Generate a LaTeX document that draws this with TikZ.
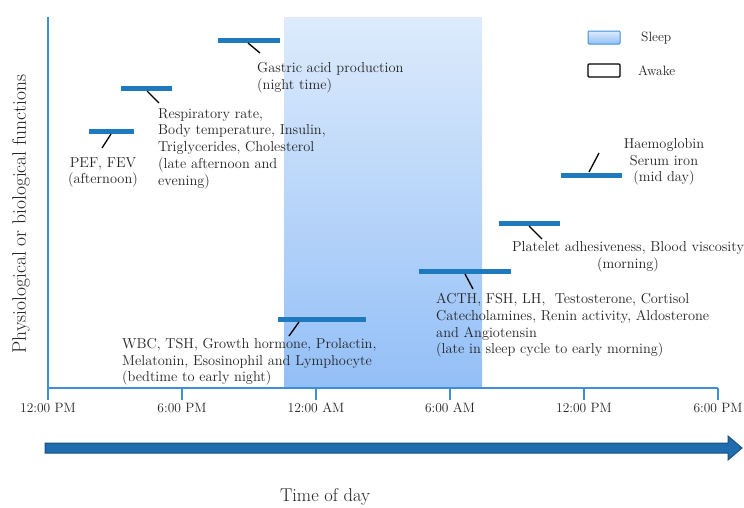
\documentclass[tikz,border=0pt]{standalone}
\usepackage{xcolor}
\definecolor{barblue}{HTML}{1F79BF}
\definecolor{axisblue}{HTML}{3E8FDA}
\definecolor{sleeptop}{HTML}{DDEBFC}
\definecolor{sleepbot}{HTML}{93BFF7}
\definecolor{arrowfill}{HTML}{1F6DAE}
\definecolor{arrowedge}{HTML}{1A4E80}
\definecolor{txt}{HTML}{222222}
\begin{document}
\begin{tikzpicture}[x=1pt,y=-1pt,
  bar/.style={line width=5pt,draw=barblue},
  lead/.style={line width=1.3pt,draw=black},
  axisline/.style={line width=1.4pt,draw=axisblue},
  lbl/.style={font=\fontsize{14.4}{16.8}\selectfont,text=txt,inner sep=0pt},
  ticklbl/.style={font=\fontsize{13.5}{15}\selectfont,text=txt,inner sep=0pt},
  legtxt/.style={font=\fontsize{13.5}{15}\selectfont,text=txt,inner sep=0pt,anchor=west}]
\useasboundingbox (0,0) rectangle (744,507);
% sleep band
\shade[top color=sleeptop,bottom color=sleepbot] (284,17) rectangle (482,388);
% axes
\draw[axisline] (48,17) -- (48,388) -- (718,388);
\foreach \x/\t [count=\i] in {48/12:00 PM,182/6:00 PM,316/12:00 AM,450/6:00 AM,584/12:00 PM,718/6:00 PM}{
  \coordinate (t\i) at (\x,388);
  \draw[axisline] (t\i) -- ++(0,12);
  \node[ticklbl] (tl\i) at (\x,408) {\t};
}
% time arrow
\draw[arrowedge,fill=arrowfill,line width=1pt,line join=miter]
  (45,443) -- (728,443) -- (728,436) -- (742,448) -- (728,460) -- (728,453) -- (45,453) -- cycle;
\node[font=\fontsize{18.5}{20}\selectfont,text=txt,inner sep=0pt] (tod) at (325,497) {Time of day};
\node[font=\fontsize{19.5}{22}\selectfont,text=txt,inner sep=0pt,rotate=90] (ylab) at (21,214) {Physiological or biological functions};
% legend
\node[draw=axisblue,line width=1pt,top color=sleeptop,bottom color=sleepbot,rounded corners=1pt,minimum width=32pt,minimum height=13pt,inner sep=0pt] (legS) at (604,37.5) {};
\node[draw=black,line width=1.2pt,fill=white,rounded corners=1pt,minimum width=32pt,minimum height=13pt,inner sep=0pt] (legA) at (604,70.5) {};
\node[legtxt] (legSt) at (641,38) {Sleep};
\node[legtxt] (legAt) at (638,71) {Awake};
% bars
\coordinate (g1) at (218,40); \coordinate (g2) at (280,40);
\draw[bar] (g1) -- (g2);
\coordinate (ga) at (248,43); \coordinate (gb) at (260,53);
\draw[lead] (ga) -- (gb);
\node[lbl,anchor=north west,align=left] (gt) at (257,62) {Gastric acid production\\(night time)};

\coordinate (r1) at (121,88); \coordinate (r2) at (172,88);
\draw[bar] (r1) -- (r2);
\coordinate (ra) at (147,91); \coordinate (rb) at (159,103);
\draw[lead] (ra) -- (rb);
\node[lbl,anchor=north west,align=left] (rt) at (158,108) {Respiratory rate,\\Body temperature, Insulin,\\Triglycerides, Cholesterol\\(late afternoon and\\evening)};

\coordinate (p1) at (89,131); \coordinate (p2) at (134,131);
\draw[bar] (p1) -- (p2);
\coordinate (pa) at (111,134); \coordinate (pb) at (102,148);
\draw[lead] (pa) -- (pb);
\node[lbl,anchor=north,align=center] (pt) at (103,157) {PEF, FEV\\(afternoon)};

\coordinate (w1) at (278,319); \coordinate (w2) at (366,319);
\draw[bar] (w1) -- (w2);
\coordinate (wa) at (299,322); \coordinate (wb) at (289,336);
\draw[lead] (wa) -- (wb);
\node[lbl,anchor=north west,align=left] (wt) at (122,338) {WBC, TSH, Growth hormone, Prolactin,\\Melatonin, Esosinophil and Lymphocyte\\(bedtime to early night)};

\coordinate (a1) at (419,271); \coordinate (a2) at (511,271);
\draw[bar] (a1) -- (a2);
\coordinate (aa) at (465,274); \coordinate (ab) at (473,289);
\draw[lead] (aa) -- (ab);
\node[lbl,anchor=north west,align=left] (at) at (436,293) {ACTH, FSH, LH,~ Testosterone, Cortisol\\Catecholamines, Renin activity, Aldosterone\\and Angiotensin\\(late in sleep cycle to early morning)};

\coordinate (b1) at (499,223); \coordinate (b2) at (560,223);
\draw[bar] (b1) -- (b2);
\coordinate (ba) at (529,226); \coordinate (bb) at (542,239);
\draw[lead] (ba) -- (bb);
\node[lbl,anchor=north,align=center] (bt) at (628,241) {Platelet adhesiveness, Blood viscosity\\(morning)};

\coordinate (h1) at (561,175); \coordinate (h2) at (622,175);
\draw[bar] (h1) -- (h2);
\coordinate (ha) at (589,172); \coordinate (hb) at (599,153);
\draw[lead] (ha) -- (hb);
\node[lbl,anchor=north,align=center] (ht) at (664,138) {Haemoglobin\\Serum iron\\(mid day)};
\end{tikzpicture}
\end{document}
